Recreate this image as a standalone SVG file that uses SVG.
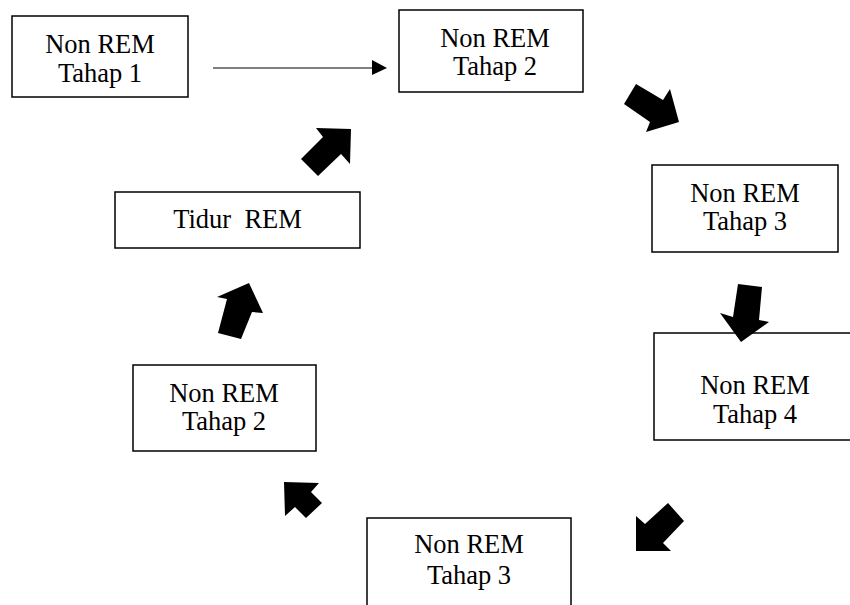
<svg xmlns="http://www.w3.org/2000/svg" width="850" height="605" viewBox="0 0 850 605">
<style>
.box{fill:#fff;stroke:#000;stroke-width:1.5}
.t{font-family:"Liberation Serif","Times New Roman",serif;font-size:26.5px;fill:#000;text-anchor:middle;white-space:pre}
.blk{fill:#000}
</style>
<rect width="850" height="605" fill="#fff"/>
<g id="n1"><rect class="box" x="12" y="16" width="176" height="81"/><text class="t" x="100" y="53">Non REM</text><text class="t" x="100" y="82">Tahap 1</text></g>
<g id="n2"><rect class="box" x="399" y="10" width="184" height="82"/><text class="t" x="495" y="47">Non REM</text><text class="t" x="495" y="75">Tahap 2</text></g>
<g id="n3"><rect class="box" x="652" y="165" width="186" height="87"/><text class="t" x="745" y="202">Non REM</text><text class="t" x="745" y="230">Tahap 3</text></g>
<g id="n4"><rect class="box" x="654" y="333" width="205" height="107"/><text class="t" x="755" y="394">Non REM</text><text class="t" x="755" y="423">Tahap 4</text></g>
<g id="n5"><rect class="box" x="367" y="518" width="204" height="100"/><text class="t" x="469" y="553">Non REM</text><text class="t" x="469" y="584">Tahap 3</text></g>
<g id="n6"><rect class="box" x="133" y="365" width="183" height="86"/><text class="t" x="224" y="402">Non REM</text><text class="t" x="224" y="430">Tahap 2</text></g>
<g id="n7"><rect class="box" x="115" y="192" width="245" height="56"/><text class="t" x="237.5" y="228" xml:space="preserve">Tidur  REM</text></g>
<g id="connectors">
<line x1="213" y1="68" x2="374" y2="68" stroke="#000" stroke-width="1.2"/>
<polygon class="blk" points="372,60 387,68 372,75"/>
<polygon class="blk" points="636,84 663,100 670,89 679,122 646,132 650,122 624,104"/>
<polygon class="blk" points="738,284 762,287 759,320 769,322 741,342 720,313 733,317"/>
<polygon class="blk" points="668,503 684,521 663,543 671,551 636,551 636,516 645,524"/>
<polygon class="blk" points="284,482 319,483 311,492 322,503 306,518 295,507 285,516"/>
<polygon class="blk" points="249,283 263,313 252,312 241,339 218,333 227,299 217,297"/>
<polygon class="blk" points="351,129 316,128 323,137 301,159 318,176 341,154 350,164"/>
</g>
</svg>
